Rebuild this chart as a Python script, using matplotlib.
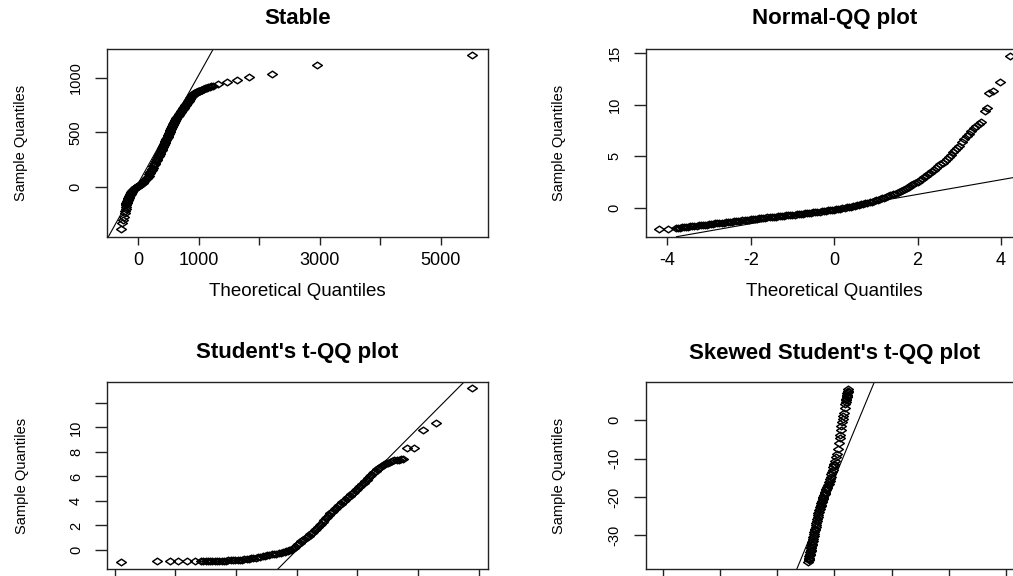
import matplotlib
matplotlib.use("Agg")
import matplotlib.pyplot as plt
from matplotlib.path import Path

# ---------------- data ----------------
titles = ["Stable", "Normal-QQ plot", "Student's t-QQ plot", "Skewed Student's t-QQ plot"]
xlabel_text = "Theoretical Quantiles"
ylabel_text = "Sample Quantiles"

stable_x = [-291, -262, -248, -232, -220, -215, -210, -206, -203, -199,
            -196, -192, -188, -184, -180, -176, -172, -168, -165, -160,
            -155, -150, -145, -140, -135, -128, -122, -116, -110, -103,
            -96, -89, -82, -74, -66, -58, -50, -40, -30, -21,
            -12, -3, 5, 16, 28, 39, 50, 60, 70, 80,
            90, 101, 112, 125, 139, 150, 160, 170, 180, 190,
            200, 210, 221, 230, 240, 250, 260, 271, 282, 293,
            304, 314, 325, 335, 345, 355, 366, 376, 386, 393,
            400, 407, 415, 421, 428, 434, 441, 448, 455, 462,
            470, 476, 483, 489, 496, 503, 510, 517, 525, 531,
            538, 545, 552, 559, 566, 573, 580, 586, 593, 599,
            606, 617, 628, 639, 650, 660, 670, 680, 689, 697,
            705, 712, 720, 726, 732, 738, 744, 750, 757, 763,
            770, 777, 785, 792, 800, 807, 815, 822, 830, 836,
            843, 849, 855, 861, 868, 874, 880, 887, 895, 902,
            910, 917, 924, 930, 937, 947, 958, 969, 980, 990,
            1000, 1010, 1020, 1032, 1045, 1057, 1070, 1085, 1100, 1115,
            1130, 1155, 1180, 1210, 1240, 1322, 1471, 1626, 1835, 2215,
            2949, 5510]
stable_y = [-387, -330, -302, -270, -240, -220, -200, -182, -165, -157,
            -150, -144, -138, -133, -128, -121, -115, -109, -103, -96,
            -90, -83, -77, -71, -66, -60, -55, -50, -45, -40,
            -36, -31, -27, -22, -17, -12, -7, -3, 0, 3,
            5, 8, 10, 14, 18, 24, 30, 35, 40, 46,
            52, 58, 64, 71, 79, 87, 96, 105, 115, 125,
            135, 145, 155, 166, 177, 188, 200, 212, 224, 236,
            247, 258, 270, 281, 292, 303, 315, 326, 338, 347,
            356, 365, 375, 385, 395, 405, 414, 422, 430, 437,
            445, 452, 460, 467, 475, 485, 495, 505, 515, 524,
            533, 542, 551, 559, 566, 573, 580, 588, 596, 604,
            612, 620, 628, 637, 645, 652, 660, 667, 674, 681,
            688, 694, 700, 705, 710, 715, 719, 725, 730, 735,
            740, 746, 752, 758, 765, 771, 778, 784, 790, 795,
            800, 806, 811, 815, 820, 825, 830, 835, 840, 845,
            850, 853, 856, 859, 862, 864, 867, 870, 872, 874,
            876, 878, 880, 884, 888, 891, 895, 898, 902, 905,
            908, 912, 917, 921, 926, 939, 960, 975, 1003, 1033,
            1112, 1204]
stable_line = (35.0, 0.99)          # intercept, slope of the reference line

normal_x = [-4.20, -3.98, -3.80, -3.75, -3.70, -3.65, -3.60, -3.55, -3.50, -3.45,
            -3.40, -3.35, -3.30, -3.25, -3.20, -3.15, -3.10, -3.05, -3.00, -2.95,
            -2.90, -2.85, -2.80, -2.75, -2.70, -2.65, -2.60, -2.55, -2.50, -2.45,
            -2.40, -2.35, -2.30, -2.25, -2.20, -2.15, -2.10, -2.05, -2.00, -1.95,
            -1.90, -1.85, -1.80, -1.75, -1.70, -1.65, -1.60, -1.55, -1.50, -1.45,
            -1.40, -1.35, -1.30, -1.25, -1.20, -1.15, -1.10, -1.05, -1.00, -0.95,
            -0.90, -0.85, -0.80, -0.75, -0.70, -0.65, -0.60, -0.55, -0.50, -0.45,
            -0.40, -0.35, -0.30, -0.25, -0.20, -0.15, -0.10, -0.05, 0.00, 0.05,
            0.10, 0.15, 0.20, 0.25, 0.30, 0.35, 0.40, 0.45, 0.50, 0.55,
            0.60, 0.65, 0.70, 0.75, 0.80, 0.85, 0.90, 0.95, 1.00, 1.05,
            1.10, 1.15, 1.20, 1.25, 1.30, 1.35, 1.40, 1.45, 1.50, 1.55,
            1.60, 1.65, 1.70, 1.75, 1.80, 1.85, 1.90, 1.95, 2.00, 2.05,
            2.10, 2.15, 2.20, 2.25, 2.30, 2.35, 2.40, 2.45, 2.50, 2.55,
            2.60, 2.65, 2.70, 2.75, 2.80, 2.85, 2.90, 2.95, 3.00, 3.06,
            3.12, 3.18, 3.24, 3.29, 3.35, 3.41, 3.47, 3.53, 3.61, 3.67,
            3.72, 3.80, 3.97, 4.21]
normal_y = [-2.07, -2.02, -1.95, -1.93, -1.90, -1.88, -1.86, -1.83, -1.81, -1.79,
            -1.76, -1.74, -1.71, -1.69, -1.67, -1.64, -1.62, -1.60, -1.57, -1.55,
            -1.52, -1.50, -1.48, -1.45, -1.43, -1.41, -1.38, -1.36, -1.34, -1.31,
            -1.29, -1.26, -1.24, -1.22, -1.20, -1.17, -1.15, -1.13, -1.10, -1.08,
            -1.06, -1.03, -1.01, -0.99, -0.97, -0.94, -0.92, -0.90, -0.88, -0.85,
            -0.83, -0.81, -0.79, -0.76, -0.74, -0.72, -0.70, -0.67, -0.65, -0.63,
            -0.61, -0.58, -0.56, -0.54, -0.52, -0.49, -0.47, -0.45, -0.42, -0.40,
            -0.37, -0.35, -0.32, -0.30, -0.27, -0.24, -0.21, -0.18, -0.15, -0.12,
            -0.08, -0.05, -0.01, 0.02, 0.06, 0.10, 0.14, 0.18, 0.22, 0.26,
            0.31, 0.35, 0.40, 0.45, 0.50, 0.55, 0.61, 0.67, 0.73, 0.79,
            0.86, 0.93, 1.00, 1.07, 1.15, 1.23, 1.31, 1.39, 1.48, 1.57,
            1.66, 1.76, 1.86, 1.96, 2.07, 2.18, 2.30, 2.42, 2.55, 2.68,
            2.82, 2.96, 3.10, 3.25, 3.40, 3.56, 3.72, 3.88, 4.05, 4.22,
            4.40, 4.59, 4.78, 4.98, 5.18, 5.39, 5.60, 5.82, 6.05, 6.35,
            6.65, 6.95, 7.20, 7.49, 7.70, 7.95, 8.10, 8.36, 9.43, 9.66,
            11.10, 11.37, 12.24, 14.76]
normal_line = (-0.10, 0.709)

student_x = [-5.78, -4.61, -4.17, -3.90, -3.62, -3.35,
             -3.15, -3.075, -3.00, -2.925, -2.85, -2.775, -2.70, -2.625, -2.55, -2.475,
             -2.40, -2.325, -2.25, -2.175, -2.10, -2.025, -1.95, -1.875, -1.80, -1.725,
             -1.65, -1.575, -1.50, -1.425, -1.35, -1.275, -1.20, -1.125, -1.05, -0.975,
             -0.90, -0.825, -0.75, -0.675, -0.60, -0.525, -0.45,
             -0.40, -0.35, -0.30, -0.25, -0.20, -0.15, -0.10, -0.05, 0.00, 0.05,
             0.10, 0.15, 0.20, 0.25, 0.30, 0.35, 0.40, 0.45, 0.50, 0.55,
             0.60, 0.65, 0.70, 0.75, 0.80, 0.85, 0.90, 0.95, 1.00, 1.05,
             1.10, 1.15, 1.20, 1.25, 1.30, 1.35, 1.40, 1.45, 1.50, 1.55,
             1.60, 1.65, 1.70, 1.75, 1.80, 1.85, 1.90, 1.95, 2.00, 2.05,
             2.10, 2.15, 2.20, 2.25, 2.30, 2.35, 2.40, 2.45, 2.50, 2.55,
             2.60, 2.65, 2.70, 2.75, 2.80, 2.85, 2.90, 2.95, 3.00,
             3.07, 3.14, 3.22, 3.30, 3.37, 3.44, 3.51,
             3.64, 3.87, 4.15, 4.58, 5.78]
student_y = [-1.00, -0.92, -0.92, -0.92, -0.92, -0.92,
             -0.93, -0.93, -0.92, -0.92, -0.91, -0.91, -0.90, -0.90, -0.89, -0.88,
             -0.88, -0.87, -0.86, -0.85, -0.84, -0.83, -0.81, -0.80, -0.78, -0.76,
             -0.74, -0.72, -0.69, -0.66, -0.63, -0.59, -0.55, -0.51, -0.47, -0.44,
             -0.40, -0.37, -0.34, -0.31, -0.28, -0.24, -0.20,
             -0.17, -0.12, -0.08, -0.03, 0.03, 0.09, 0.17, 0.27, 0.39, 0.50,
             0.60, 0.70, 0.79, 0.89, 0.98, 1.08, 1.18, 1.28, 1.38, 1.49,
             1.62, 1.75, 1.88, 2.02, 2.16, 2.30, 2.44, 2.58, 2.73, 2.86,
             2.98, 3.10, 3.22, 3.34, 3.45, 3.56, 3.67, 3.78, 3.89, 4.00,
             4.11, 4.22, 4.33, 4.44, 4.55, 4.66, 4.77, 4.88, 5.00, 5.11,
             5.23, 5.35, 5.47, 5.60, 5.73, 5.87, 6.01, 6.15, 6.26, 6.37,
             6.48, 6.60, 6.70, 6.79, 6.87, 6.94, 7.01, 7.07, 7.13,
             7.20, 7.26, 7.31, 7.35, 7.38, 7.40, 7.42,
             8.35, 8.35, 9.80, 10.39, 13.20]
student_line = (-0.01, 2.49)

skewed_x = [-0.455, -0.450, -0.445, -0.440, -0.435, -0.430, -0.425, -0.420, -0.415, -0.410,
            -0.405, -0.400, -0.395, -0.390, -0.385, -0.378, -0.372, -0.366, -0.360, -0.354,
            -0.348, -0.342, -0.336, -0.329, -0.322, -0.315, -0.308, -0.301, -0.294, -0.287,
            -0.280, -0.272, -0.265, -0.257, -0.250, -0.242, -0.235, -0.228, -0.220, -0.212,
            -0.205, -0.198, -0.190, -0.181, -0.172, -0.163, -0.155, -0.146, -0.138, -0.129,
            -0.120, -0.110, -0.100, -0.090, -0.080, -0.070, -0.060, -0.050, -0.040, -0.030,
            -0.020, -0.010, 0.000, 0.018, 0.035, 0.050, 0.065, 0.080, 0.095, 0.105,
            0.115, 0.125, 0.135, 0.145, 0.155, 0.165, 0.180, 0.195, 0.200, 0.205,
            0.210, 0.215, 0.220, 0.225, 0.230, 0.235, 0.240, 0.245]
skewed_y = [-36.9, -36.55, -36.2, -35.85, -35.5, -35.15, -34.8, -34.45, -34.1, -33.75,
            -33.4, -33.0, -32.6, -32.25, -31.9, -31.45, -31.0, -30.55, -30.1, -29.65,
            -29.2, -28.75, -28.3, -27.8, -27.3, -26.8, -26.3, -25.8, -25.3, -24.8,
            -24.3, -23.9, -23.5, -23.1, -22.7, -22.35, -22.0, -21.65, -21.3, -20.95,
            -20.6, -20.25, -19.9, -19.55, -19.2, -18.9, -18.6, -18.25, -17.9, -17.6,
            -17.3, -16.95, -16.6, -16.2, -15.8, -15.25, -14.7, -14.1, -13.5, -12.9,
            -12.3, -11.8, -11.3, -10.5, -9.7, -8.7, -7.4, -6.0, -4.7, -3.8,
            -2.6, -1.4, -0.5, 0.3, 1.0, 1.8, 3.1, 4.3, 4.8, 5.2,
            5.6, 6.0, 6.35, 6.7, 7.05, 7.4, 7.75, 8.1]
skewed_line = (-15.2, 36.0)

stable_xticks = [0, 1000, 2000, 3000, 4000, 5000]
stable_xticklabels = ["0", "1000", "", "3000", "", "5000"]
stable_yticks = [0, 500, 1000]
normal_xticks = [-4, -2, 0, 2, 4]
normal_yticks = [0, 5, 10, 15]
student_xticks = [-6, -4, -2, 0, 2, 4, 6]
student_yticks = [0, 2, 4, 6, 8, 10, 12]
student_yticklabels = ["0", "2", "4", "6", "8", "10", ""]
skewed_xticks = [-3, -2, -1, 0, 1, 2, 3]
skewed_yticks = [-30, -20, -10, 0]

# ---------------- styling ----------------
plt.rcParams["font.family"] = ["Liberation Sans", "DejaVu Sans"]
plt.rcParams["axes.unicode_minus"] = False

W, H = 1013, 576
fig = plt.figure(figsize=(W / 100, H / 100), dpi=100)
fig.patch.set_facecolor("white")

diamond = Path([(-1, 0), (0, 0.68), (1, 0), (0, -0.68), (-1, 0)],
               [Path.MOVETO, Path.LINETO, Path.LINETO, Path.LINETO, Path.CLOSEPOLY])


def make_axes(l, t, r, b):
    return fig.add_axes([l / W, 1 - b / H, (r - l) / W, (b - t) / H])


def style_panel(ax, title, title_pad, xticks, xticklabels, yticks, yticklabels,
                xlim, ylim, ylab_x, show_xlabels):
    ax.set_xlim(*xlim)
    ax.set_ylim(*ylim)
    ax.set_xticks(xticks)
    ax.set_xticklabels(xticklabels if show_xlabels else [""] * len(xticks))
    ax.set_yticks(yticks)
    ax.set_yticklabels(yticklabels, rotation=90, va="center")
    for s in ax.spines.values():
        s.set_linewidth(1.0)
        s.set_color("#222222")
    ax.tick_params(axis="x", length=6, width=1, pad=5, labelsize=13, colors="#222222",
                   labelcolor="black")
    ax.tick_params(axis="y", length=9, width=1, pad=8.5, labelsize=10.5, colors="#222222",
                   labelcolor="black")
    ax.set_title(title, fontsize=16, fontweight="bold", pad=title_pad)
    ax.set_ylabel(ylabel_text, fontsize=10.5)
    ax.yaxis.set_label_coords(ylab_x, 0.5)
    if show_xlabels:
        ax.set_xlabel(xlabel_text, fontsize=13.5)
        ax.xaxis.set_label_coords(0.5, -0.245)


def draw(ax, x, y, line):
    ax.plot(x, y, linestyle="none", marker=diamond, markersize=7.0,
            markerfacecolor="none", markeredgecolor="black", markeredgewidth=1.05)
    ax.axline((0, line[0]), slope=line[1], color="black", linewidth=0.8)


# Stable
ax1 = make_axes(107, 49, 488, 237)
draw(ax1, stable_x, stable_y, stable_line)
style_panel(ax1, titles[0], 18, stable_xticks, stable_xticklabels, stable_yticks,
            [str(v) for v in stable_yticks], (-517, 5780), (-457, 1262), -0.207, True)

# Normal
ax2 = make_axes(645.7, 49, 1023, 236.7)
draw(ax2, normal_x, normal_y, normal_line)
style_panel(ax2, titles[1], 18, normal_xticks, [str(v) for v in normal_xticks], normal_yticks,
            [str(v) for v in normal_yticks], (-4.52, 4.53), (-2.78, 15.4), -0.212, True)

# Student t
ax3 = make_axes(107.3, 381.7, 487.7, 569.3)
draw(ax3, student_x, student_y, student_line)
style_panel(ax3, titles[2], 17, student_xticks, [str(v) for v in student_xticks], student_yticks,
            student_yticklabels, (-6.24, 6.29), (-1.58, 13.74), -0.207, False)

# Skewed Student t
ax4 = make_axes(645.7, 382.3, 1023, 569.3)
draw(ax4, skewed_x, skewed_y, skewed_line)
style_panel(ax4, titles[3], 17, skewed_xticks, [str(v) for v in skewed_xticks], skewed_yticks,
            [str(v) for v in skewed_yticks], (-3.30, 3.30), (-38.9, 9.92), -0.212, False)

fig.savefig("out.png", dpi=100, facecolor="white")
